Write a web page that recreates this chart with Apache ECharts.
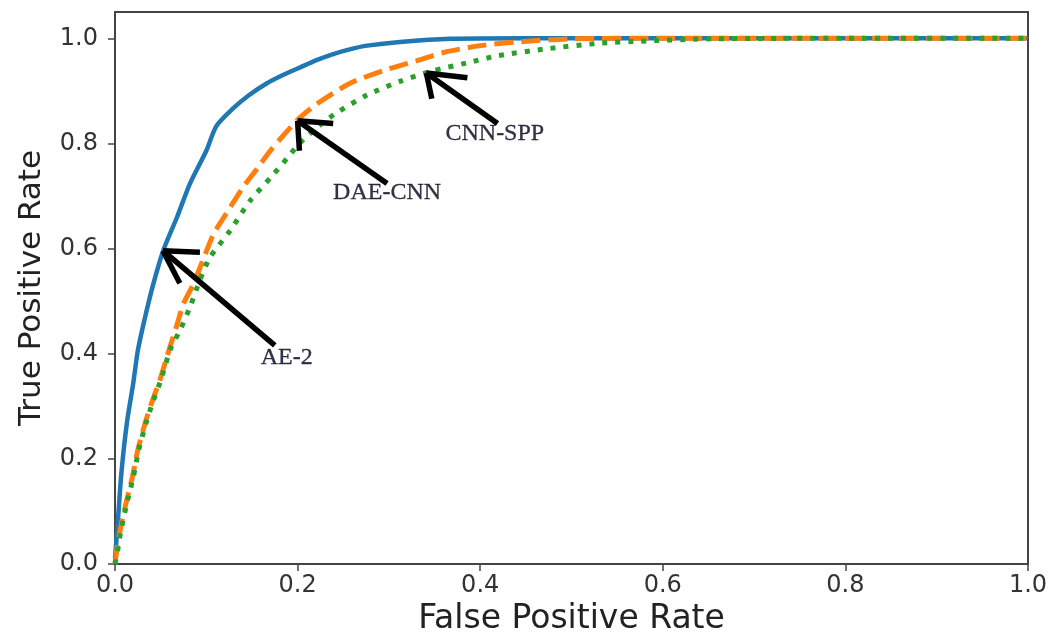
<!DOCTYPE html>
<html>
<head>
<meta charset="utf-8">
<script src="https://cdn.jsdelivr.net/npm/echarts@6/dist/echarts.min.js"></script>
<style>
html, body { margin: 0; background: #fff; }
#chart { width: 1054px; height: 635px; }
</style>
</head>
<body>
<div id="chart"></div>
<script>
// ROC curves
const ae2Fpr = [0, 0.003, 0.007, 0.013, 0.020, 0.025, 0.033, 0.042, 0.053, 0.068, 0.082, 0.100, 0.111, 0.129, 0.147, 0.166, 0.184, 0.202, 0.220, 0.239, 0.257, 0.276, 0.312, 0.367, 0.450, 0.600, 0.800, 1.0]
const ae2Tpr = [0.01, 0.078, 0.173, 0.268, 0.344, 0.406, 0.470, 0.533, 0.597, 0.660, 0.723, 0.786, 0.833, 0.866, 0.892, 0.914, 0.930, 0.944, 0.958, 0.970, 0.979, 0.986, 0.993, 0.999, 1.0, 1.0, 1.0, 1.0]

const daeFpr = [0, 0.002, 0.005, 0.011, 0.019, 0.025, 0.033, 0.040, 0.049, 0.060, 0.067, 0.075, 0.086, 0.099, 0.108, 0.122, 0.140, 0.157, 0.170, 0.199, 0.221, 0.257, 0.293, 0.330, 0.360, 0.400, 0.440, 0.500, 0.600, 0.800, 1.0]
const daeTpr = [0, 0.027, 0.059, 0.108, 0.165, 0.217, 0.268, 0.306, 0.349, 0.412, 0.450, 0.495, 0.533, 0.590, 0.628, 0.667, 0.716, 0.755, 0.786, 0.843, 0.875, 0.914, 0.938, 0.957, 0.973, 0.986, 0.993, 0.999, 1.0, 1.0, 1.0]

const sppFpr = [0, 0.003, 0.006, 0.012, 0.020, 0.026, 0.034, 0.041, 0.050, 0.061, 0.071, 0.082, 0.093, 0.104, 0.126, 0.148, 0.173, 0.190, 0.202, 0.221, 0.240, 0.276, 0.312, 0.348, 0.385, 0.420, 0.473, 0.527, 0.582, 0.654, 0.800, 1.0]
const sppTpr = [0, 0.027, 0.059, 0.108, 0.165, 0.217, 0.268, 0.306, 0.349, 0.410, 0.444, 0.488, 0.540, 0.583, 0.634, 0.691, 0.740, 0.775, 0.800, 0.830, 0.855, 0.892, 0.918, 0.938, 0.953, 0.967, 0.980, 0.990, 0.995, 0.999, 1.0, 1.0]

const yTicks = [0, 0.2, 0.4, 0.6, 0.8, 1.0]
const xTicks = [0, 0.2, 0.4, 0.6, 0.8, 1.0]

// hand-drawn arrows: tail -> tip, plus two head strokes
const noteNames = ['AE-2', 'DAE-CNN', 'CNN-SPP']
const noteLabelPos = [[0.188, 0.393], [0.298, 0.707], [0.416, 0.819]]
const arrowTails = [[0.175, 0.416], [0.298, 0.724], [0.419, 0.838]]
const arrowTips = [[0.0525, 0.596], [0.200, 0.843], [0.341, 0.934]]
const headSide = [[0.093, 0.593], [0.239, 0.838], [0.386, 0.925]]
const headDown = [[0.071, 0.534], [0.202, 0.786], [0.347, 0.885]]

const zip = (xs, ys) => xs.map((x, i) => [x, ys[i]])

const arrowSegments = []
arrowTips.forEach((tip, i) => {
  arrowSegments.push([{ coord: arrowTails[i] }, { coord: tip }])
  arrowSegments.push([{ coord: tip }, { coord: headSide[i] }])
  arrowSegments.push([{ coord: tip }, { coord: headDown[i] }])
})

const chart = echarts.init(document.getElementById('chart'))

const axisText = { fontFamily: 'DejaVu Sans', fontSize: 24, color: '#333' }

chart.setOption({
  animation: false,
  grid: {
    left: 115, right: 26, top: 12, bottom: 71, outerBoundsMode: 'none',
    show: true, borderColor: '#444', borderWidth: 2
  },
  xAxis: {
    type: 'value', min: 0, max: 1,
    name: 'False Positive Rate', nameLocation: 'middle', nameGap: 39,
    nameTextStyle: { fontFamily: 'DejaVu Sans', fontSize: 33, color: '#222' },
    axisLine: { show: true, lineStyle: { color: '#444', width: 2 } },
    axisTick: { show: true, length: 7, customValues: xTicks, lineStyle: { color: '#444', width: 1.5 } },
    axisLabel: { ...axisText, margin: 10, customValues: xTicks, formatter: (v) => v.toFixed(1) },
    splitLine: { show: false }
  },
  yAxis: {
    type: 'value', min: 0, max: 1.05,
    name: 'True Positive Rate', nameLocation: 'middle', nameGap: 68,
    nameTextStyle: { fontFamily: 'DejaVu Sans', fontSize: 31, color: '#222' },
    axisLine: { show: true, lineStyle: { color: '#444', width: 2 } },
    axisTick: { show: true, length: 7, customValues: yTicks, lineStyle: { color: '#444', width: 1.5 } },
    axisLabel: { ...axisText, margin: 17, customValues: yTicks, formatter: (v) => v.toFixed(1) },
    splitLine: { show: false }
  },
  series: [
    {
      name: 'AE-2', type: 'line', data: zip(ae2Fpr, ae2Tpr), showSymbol: false, smooth: 0.25,
      lineStyle: { color: '#1f77b4', width: 4.5 }
    },
    {
      name: 'DAE-CNN', type: 'line', data: zip(daeFpr, daeTpr), showSymbol: false, smooth: 0.25,
      lineStyle: { color: '#ff7f0e', width: 5, type: [19, 8] }
    },
    {
      name: 'CNN-SPP', type: 'line', data: zip(sppFpr, sppTpr), showSymbol: false, smooth: 0.25,
      lineStyle: { color: '#2ca02c', width: 5, type: [5, 8] }
    },
    {
      name: 'notes', type: 'scatter', symbolSize: 0, silent: true,
      data: noteNames.map((n, i) => ({ name: n, value: noteLabelPos[i] })),
      label: {
        show: true, position: 'inside', formatter: '{b}',
        fontFamily: 'Liberation Serif', fontSize: 24, color: '#000018',
        textBorderColor: '#000018', textBorderWidth: 0.3
      },
      markLine: {
        silent: true, symbol: ['none', 'none'], label: { show: false },
        lineStyle: { color: '#000', width: 5.5, type: 'solid' },
        data: arrowSegments
      }
    }
  ]
})
</script>
</body>
</html>
